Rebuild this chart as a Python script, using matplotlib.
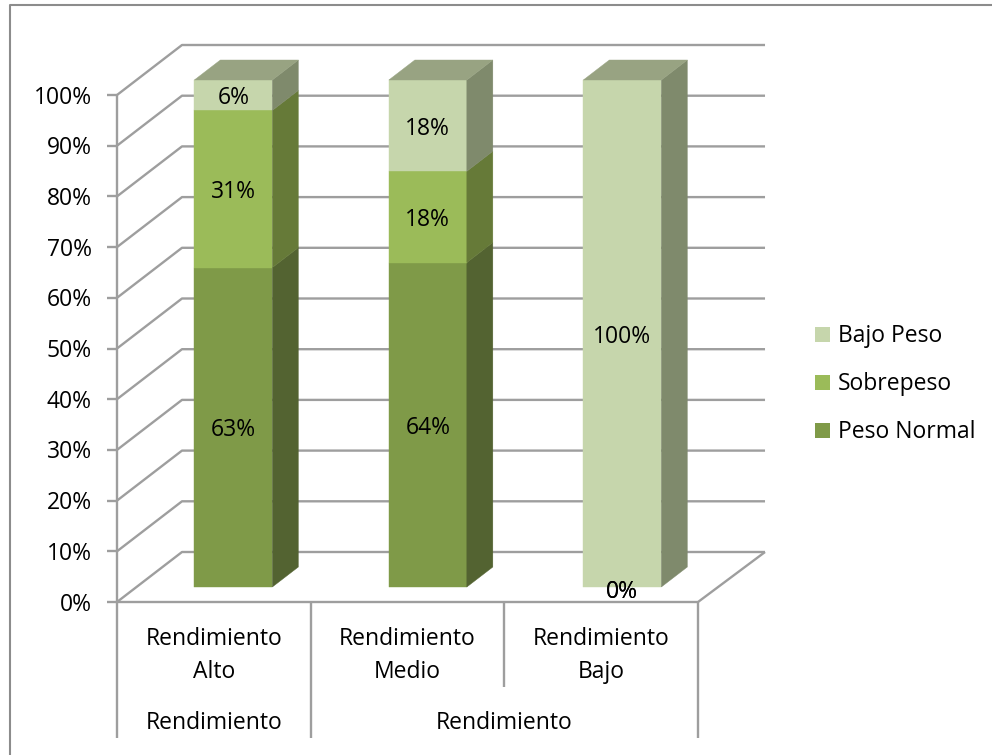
import matplotlib
matplotlib.use("Agg")
import matplotlib.pyplot as plt
from matplotlib.patches import Polygon, Rectangle

plt.rcParams['font.family'] = ['Open Sans', 'DejaVu Sans']

categories = ["Rendimiento\nAlto", "Rendimiento\nMedio", "Rendimiento\nBajo"]
group_labels = ["Rendimiento", "Rendimiento"]
series_names = ["Peso Normal", "Sobrepeso", "Bajo Peso"]
peso_normal = [63, 64, 0]
sobrepeso = [31, 18, 0]
bajo_peso = [6, 18, 100]
value_labels = [["63%", "64%", "0%"], ["31%", "18%", "0%"], ["6%", "18%", "100%"]]
y_ticks = [0, 10, 20, 30, 40, 50, 60, 70, 80, 90, 100]

front_colors = ["#7F9A48", "#9BBB59", "#C6D6AC"]
side_colors = ["#536331", "#667A38", "#7F8A6C"]
top_colors = ["#657A38", "#839A52", "#98A382"]
grid_color = "#9E9E9E"
font_size = 16.5

# pixel layout of the 3d box
W, H = 992, 755
x0_px, y0_px = 117, 602
cat_px = 193.67
pct_px = 5.07
depth_x = 65 / cat_px
depth_y = 50 / pct_px
bar_w = 78 / cat_px
bar_step = 194.5 / cat_px
d_front, d_back = 0.3, 0.7

fig = plt.figure(figsize=(W / 100, H / 100), dpi=100)
ax = fig.add_axes([0, 0, 1, 1])
ax.set_xlim(-x0_px / cat_px, (W - x0_px) / cat_px)
ax.set_ylim((y0_px - H) / pct_px, y0_px / pct_px)
ax.axis("off")


def proj(x, y, d):
    return x + d * depth_x, y + d * depth_y


def face(points, color, z):
    ax.add_patch(Polygon(points, closed=True, facecolor=color, edgecolor=color, lw=0.3, zorder=z))


n_cat = len(categories)
grid = dict(color=grid_color, lw=1.7, solid_capstyle="butt", zorder=1)
wall_right = n_cat + 2 / cat_px

# walls and gridlines
for t in y_ticks:
    a = proj(0, t, 0)
    b = proj(0, t, 1)
    c = proj(wall_right, t, 1)
    ax.plot([a[0], b[0], c[0]], [a[1], b[1], c[1]], **grid)
    ax.plot([a[0] - 10 / cat_px, a[0]], [t, t], **grid)
    ax.text(a[0] - 25 / cat_px, t - 0.5, f"{t}%", ha="right", va="center", fontsize=font_size, color="black")

# floor and axes
b = proj(wall_right, 0, 1)
ax.plot([0, n_cat, b[0]], [0, 0, b[1]], **grid)
ax.plot([0, 0], [0, 100], **grid)

# category table under the floor
table_bottom = (y0_px - 738) / pct_px
split = (y0_px - 687) / pct_px
ax.plot([0, 0], [0, table_bottom], **grid)
ax.plot([1, 1], [0, table_bottom], **grid)
ax.plot([2, 2], [0, split], **grid)
ax.plot([3, 3], [0, table_bottom], **grid)
for i, name in enumerate(categories):
    ax.text(i + 0.5, (y0_px - 655.5) / pct_px, name, ha="center", va="center",
            fontsize=font_size, linespacing=1.55, color="black")
ax.text(0.5, (y0_px - 723) / pct_px, group_labels[0], ha="center", va="center", fontsize=font_size)
ax.text(2.0, (y0_px - 723) / pct_px, group_labels[1], ha="center", va="center", fontsize=font_size)

# stacked bars
series = [peso_normal, sobrepeso, bajo_peso]
for i in range(n_cat):
    center = 0.5 + i * bar_step
    left = center - bar_w / 2
    right = center + bar_w / 2
    base = 0
    last = max(k for k in range(3) if series[k][i] > 0)
    for k, vals in enumerate(series):
        v = vals[i]
        top = base + v
        if v > 0:
            z = 3 + k * 0.1
            face([proj(left, base, d_front), proj(right, base, d_front),
                  proj(right, top, d_front), proj(left, top, d_front)], front_colors[k], z)
            face([proj(right, base, d_front), proj(right, base, d_back),
                  proj(right, top, d_back), proj(right, top, d_front)], side_colors[k], z)
            if k == last:
                face([proj(left, top, d_front), proj(right, top, d_front),
                      proj(right, top, d_back), proj(left, top, d_back)], top_colors[k], z)
            lx, ly = proj(center, base + v / 2, d_front)
            ax.text(lx, ly - 0.6, value_labels[k][i], ha="center", va="center",
                    fontsize=font_size, color="black", zorder=6)
        else:
            lx, ly = proj(center, base, d_front)
            ax.text(lx, ly - 0.9, value_labels[k][i], ha="center", va="center",
                    fontsize=font_size, color="black", zorder=6)
        base = top

# legend
legend_y = [(y0_px - 334) / pct_px, (y0_px - 382) / pct_px, (y0_px - 430) / pct_px]
for name, color, ly in zip(series_names[::-1], front_colors[::-1], legend_y):
    ax.add_patch(Rectangle(((815 - x0_px) / cat_px, ly - 7.5 / pct_px), 15 / cat_px, 15 / pct_px,
                           facecolor=color, edgecolor="none", zorder=3))
    ax.text((838 - x0_px) / cat_px, ly - 0.3, name, ha="left", va="center", fontsize=font_size)

# chart frame
fig.add_artist(plt.Line2D([10 / W, 10 / W, 1], [0, 1 - 4.7 / H, 1 - 4.7 / H],
                          color="#8C8C8C", lw=1.5, transform=fig.transFigure))

fig.savefig("out.png", dpi=100)
